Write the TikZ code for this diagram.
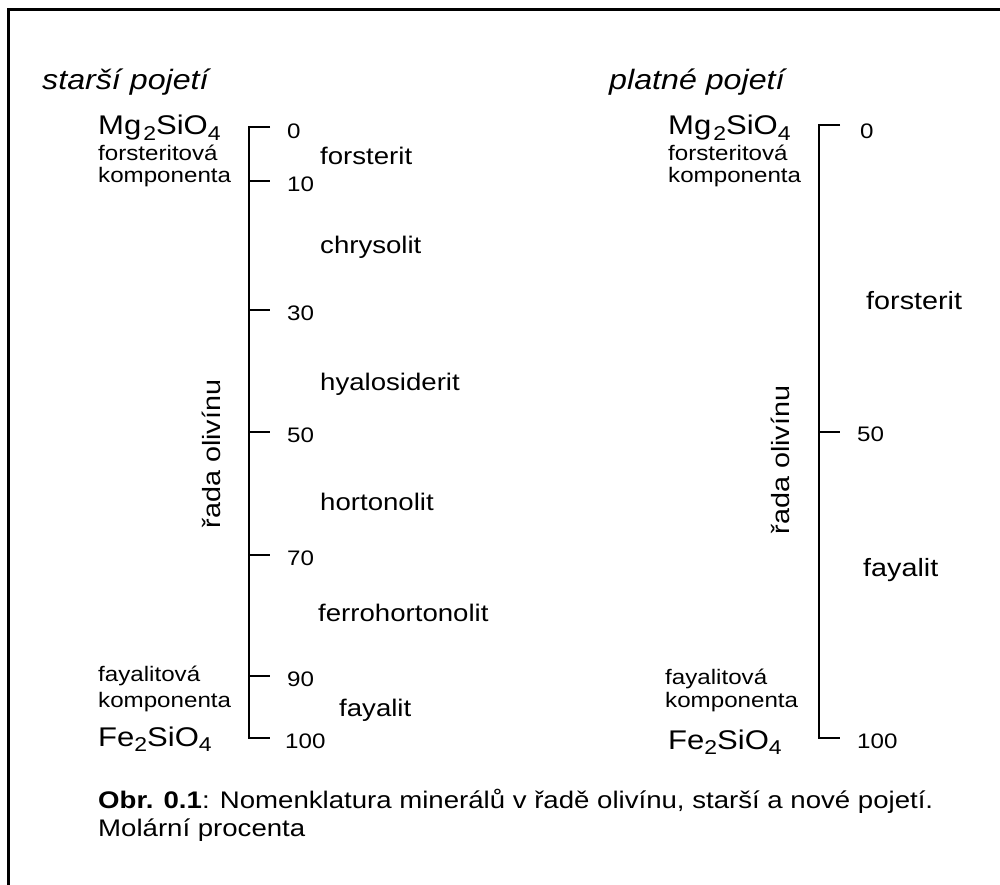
\documentclass[tikz,border=0pt]{standalone}
\usepackage{fontspec}
\setmainfont{Liberation Sans}[FakeStretch=1.15]
\usetikzlibrary{calc}
\newcommand{\fs}[1]{\fontsize{#1}{#1}\selectfont}
\newcommand{\sbs}[1]{\raisebox{-0.4ex}{\fontsize{20}{20}\selectfont #1}}
\begin{document}
\begin{tikzpicture}[x=1pt,y=-1pt,
  frame/.style={line width=3pt},
  axisline/.style={line width=2.4pt,line cap=butt},
  ticks/.style={line width=2.2pt},
  ttl/.style={anchor=base west,inner sep=0,font=\fs{28}\itshape},
  formula/.style={anchor=base west,inner sep=0,font=\fs{27}},
  comp/.style={anchor=base west,inner sep=0,font=\fs{21}},
  num/.style={anchor=west,inner sep=0,font=\fs{21}},
  mineral/.style={anchor=base west,inner sep=0,font=\fs{24}},
  bigmineral/.style={anchor=base west,inner sep=0,font=\fs{25}},
  series/.style={inner sep=0,font=\fs{25},rotate=90},
  captiontext/.style={anchor=base west,inner sep=0,font=\fs{24}}]
\useasboundingbox (0,0) rectangle (1000,885);
\fill[white] (0,0) rectangle (1000,885);
% frame
\coordinate (fc) at (8,10);
\coordinate (fr) at (1000,10);
\coordinate (fb) at (8,885);
\draw[frame] (fb) -- (fc) -- (fr);
% titles
\node[ttl] (t1) at (42,90) {starší pojetí};
\node[ttl] (t2) at (609,90) {platné pojetí};
% left scale
\coordinate (L0) at (249,127);
\coordinate (L100) at (249,738);
\draw[axisline] ($(L0)+(21,0)$) -- (L0) -- (L100) -- ($(L100)+(21,0)$);
\foreach \v/\y in {10/181,30/310,50/432,70/555,90/676}{
  \coordinate (Lt\v) at (249,\y);
  \draw[ticks] (Lt\v) -- ++(21,0);
}
\node[num] (n0) at (287,131) {0};
\node[num] (n10) at (287,184) {10};
\node[num] (n30) at (287,313) {30};
\node[num] (n50) at (287,435) {50};
\node[num] (n70) at (287,558) {70};
\node[num] (n90) at (287,679) {90};
\node[num] (n100) at (285,741) {100};
\node[formula] (mgL) at (98,135) {Mg\kern2pt\sbs{2}SiO\sbs{4}};
\node[comp] (fkL1) at (98,161) {forsteritová};
\node[comp] (fkL2) at (98,183) {komponenta};
\node[comp] (fyL1) at (98,681) {fayalitová};
\node[comp] (fyL2) at (98,707) {komponenta};
\node[formula] (feL) at (98,746) {Fe\sbs{2}SiO\sbs{4}};
\node[series] (sL) at (211,454) {řada olivínu};
\node[mineral] (m1) at (320,165) {forsterit};
\node[mineral] (m2) at (320,254) {chrysolit};
\node[mineral] (m3) at (320,390) {hyalosiderit};
\node[mineral] (m4) at (320,510) {hortonolit};
\node[mineral] (m5) at (318,621) {ferrohortonolit};
\node[mineral] (m6) at (339,716) {fayalit};
% right scale
\coordinate (R0) at (819,125);
\coordinate (R100) at (819,738);
\coordinate (R50) at (819,432);
\draw[axisline] ($(R0)+(21,0)$) -- (R0) -- (R100) -- ($(R100)+(21,0)$);
\draw[ticks] (R50) -- ++(21,0);
\node[num] (r0) at (860,131) {0};
\node[num] (r50) at (857,434) {50};
\node[num] (r100) at (857,741) {100};
\node[formula] (mgR) at (668,135) {Mg\kern2pt\sbs{2}SiO\sbs{4}};
\node[comp] (fkR1) at (668,161) {forsteritová};
\node[comp] (fkR2) at (668,183) {komponenta};
\node[comp] (fyR1) at (665,684) {fayalitová};
\node[comp] (fyR2) at (665,707) {komponenta};
\node[formula] (feR) at (668,749) {Fe\sbs{2}SiO\sbs{4}};
\node[series] (sR) at (780,460) {řada olivínu};
\node[bigmineral] (rm1) at (866,309) {forsterit};
\node[bigmineral] (rm2) at (863,576) {fayalit};
% caption
\node[captiontext] (c1) at (98,808) {\textbf{Obr. 0.1}: Nomenklatura minerálů v řadě olivínu, starší a nové pojetí.};
\node[captiontext] (c2) at (98,836) {Molární procenta};
\end{tikzpicture}
\end{document}
